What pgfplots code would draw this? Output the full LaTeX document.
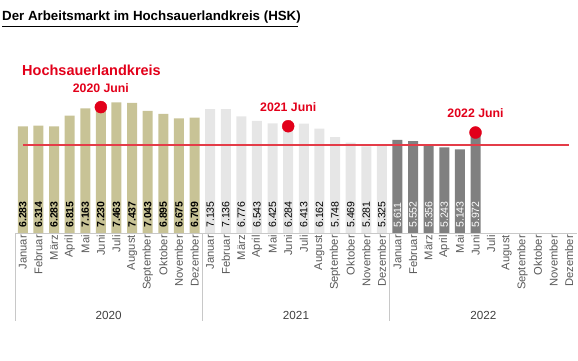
\documentclass[border=0pt]{standalone}
\usepackage{pgfplots}
\pgfplotsset{compat=1.18}
\usepackage{pgfplotstable}
\usepackage{fontspec}
\setmainfont{Liberation Sans}
\definecolor{khaki}{RGB}{200,195,150}
\definecolor{lgray}{RGB}{230,230,230}
\definecolor{dgray}{RGB}{128,128,128}
\definecolor{hskred}{RGB}{226,0,26}
\definecolor{linered}{RGB}{228,60,72}
\definecolor{monthgray}{RGB}{89,89,89}
\definecolor{yeargray}{RGB}{64,64,64}
\definecolor{sepgray}{RGB}{200,200,200}
\pgfplotstableread{
x v
0 6283
1 6314
2 6283
3 6815
4 7163
5 7230
6 7463
7 7437
8 7043
9 6895
10 6675
11 6709
}\tA
\pgfplotstableread{
x v
12 7135
13 7136
14 6776
15 6543
16 6425
17 6284
18 6413
19 6162
20 5748
21 5469
22 5281
23 5325
}\tB
\pgfplotstableread{
x v
24 5611
25 5552
26 5356
27 5243
28 5143
29 5972
}\tC
\begin{document}
\begin{tikzpicture}
\useasboundingbox (0pt,0pt) rectangle (578pt,361pt);
\node[anchor=west, inner sep=0pt, font=\bfseries\fontsize{13.3}{15}\selectfont] at (2pt,343.5pt) {Der Arbeitsmarkt im Hochsauerlandkreis (HSK)};
\draw[black, line width=1.3pt] (2pt,334.5pt) -- (298pt,334.5pt);
\node[anchor=west, inner sep=0pt, text=hskred, font=\bfseries\fontsize{14.5}{16}\selectfont] at (22pt,291pt) {Hochsauerlandkreis};
\begin{axis}[
  at={(15pt,128pt)}, anchor=south west,
  scale only axis, width=562pt, height=137.4pt,
  xmin=-0.5, xmax=35.5, ymin=1000, ymax=7800,
  clip=false,
  axis y line=none, axis x line*=bottom,
  x axis line style={draw=sepgray, -},
  ytick=\empty,
  xtick={0,...,35},
  xticklabels={Januar,Februar,März,April,Mai,Juni,Juli,August,September,Oktober,November,Dezember,
               Januar,Februar,März,April,Mai,Juni,Juli,August,September,Oktober,November,Dezember,
               Januar,Februar,März,April,Mai,Juni,Juli,August,September,Oktober,November,Dezember},
  xticklabel style={rotate=90, anchor=east, inner sep=2pt, text=monthgray, font=\fontsize{11.2}{13}\selectfont},
  major tick length=0pt,
  bar width=10pt, bar shift=0pt,
]
\addplot[ybar, fill=khaki, draw=none] table[x=x,y=v]{\tA};
\addplot[ybar, fill=lgray, draw=none] table[x=x,y=v]{\tB};
\addplot[ybar, fill=dgray, draw=none] table[x=x,y=v]{\tC};
\addplot[linered, line width=1.3pt] coordinates {(0,5350) (35,5350)};
% value labels
\addplot[draw=none, mark=none, nodes near coords={\pgfmathprintnumber[1000 sep={.},assume math mode=true]{\pgfplotspointmeta}},
  point meta=explicit,
  every node near coord/.style={rotate=90, anchor=west, inner sep=0pt, text=black, font=\bfseries\fontsize{10.5}{12}\selectfont}]
  table[x=x, y expr=1250, meta=v]{\tA};
\addplot[draw=none, mark=none, nodes near coords={\pgfmathprintnumber[1000 sep={.},assume math mode=true]{\pgfplotspointmeta}},
  point meta=explicit,
  every node near coord/.style={rotate=90, anchor=west, inner sep=0pt, text=black, font=\fontsize{10.5}{12}\selectfont}]
  table[x=x, y expr=1250, meta=v]{\tB};
\addplot[draw=none, mark=none, nodes near coords={\pgfmathprintnumber[1000 sep={.},assume math mode=true]{\pgfplotspointmeta}},
  point meta=explicit,
  every node near coord/.style={rotate=90, anchor=west, inner sep=0pt, text=white, font=\fontsize{10.5}{12}\selectfont}]
  table[x=x, y expr=1250, meta=v]{\tC};
% red dots
\addplot[only marks, mark=*, mark size=6pt, color=hskred,
  nodes near coords, point meta=explicit symbolic,
  every node near coord/.style={anchor=center, yshift=19pt, inner sep=0pt, text=hskred, font=\bfseries\fontsize{12.3}{14}\selectfont}]
  coordinates {(5,7230) [2020 Juni] (17,6284) [2021 Juni] (29,5972) [2022 Juni]};
% separators and years
\draw[sepgray, line width=0.8pt] (axis cs:-0.5,1000) -- ++(0pt,-88pt);
\draw[sepgray, line width=0.8pt] (axis cs:11.5,1000) -- ++(0pt,-88pt);
\draw[sepgray, line width=0.8pt] (axis cs:23.5,1000) -- ++(0pt,-88pt);
\node[text=yeargray, font=\fontsize{11.7}{13}\selectfont] at (axis cs:5.5,1000) [yshift=-82pt] {2020};
\node[text=yeargray, font=\fontsize{11.7}{13}\selectfont] at (axis cs:17.5,1000) [yshift=-82pt] {2021};
\node[text=yeargray, font=\fontsize{11.7}{13}\selectfont] at (axis cs:29.5,1000) [yshift=-82pt] {2022};
\end{axis}
\end{tikzpicture}
\end{document}
